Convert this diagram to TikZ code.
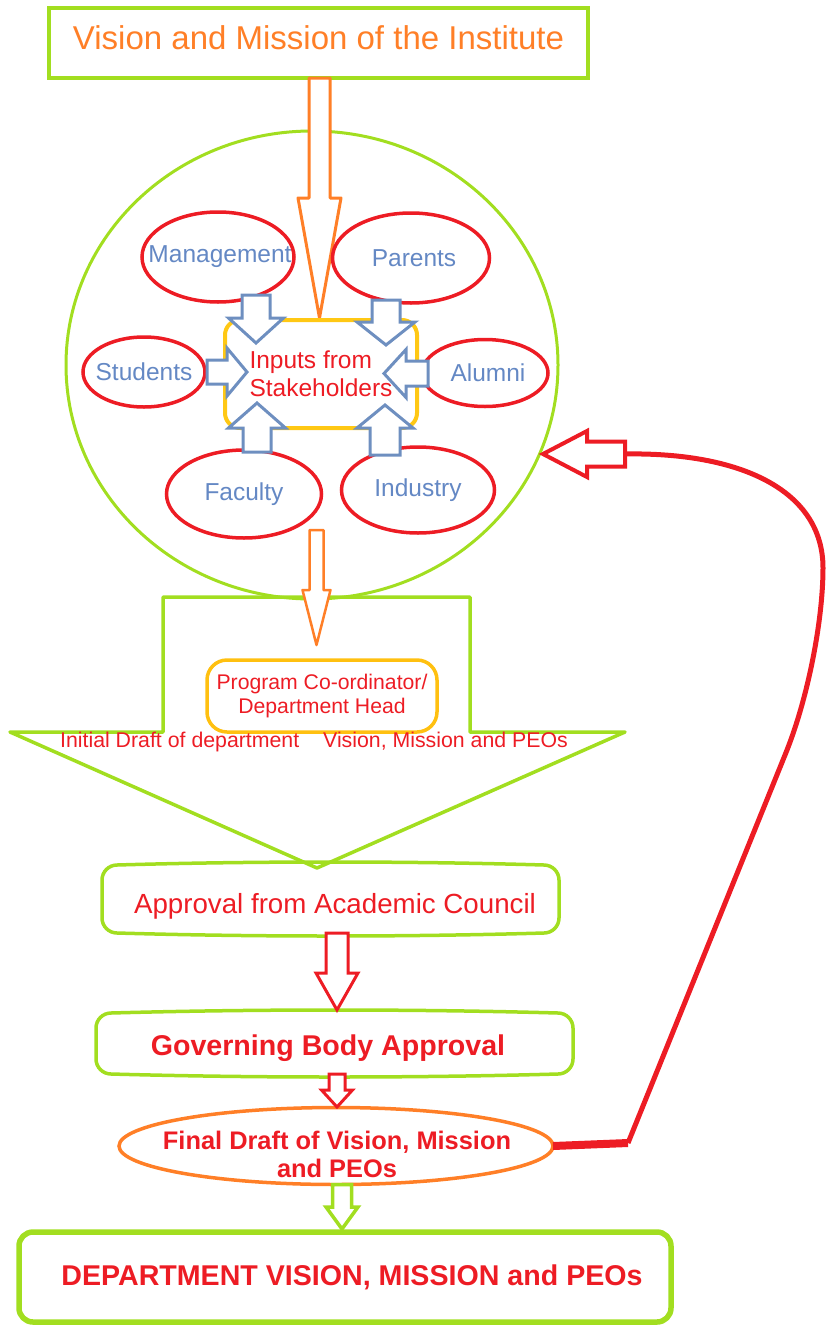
\documentclass[tikz,border=0pt]{standalone}
\usepackage{fontspec}
\setmainfont{Liberation Sans}
\usetikzlibrary{shapes.geometric,calc}
\definecolor{vgreen}{RGB}{162,222,32}
\definecolor{vred}{RGB}{237,28,36}
\definecolor{vorange}{RGB}{255,127,39}
\definecolor{vyellow}{RGB}{255,200,20}
\definecolor{vyellowb}{RGB}{255,192,16}
\definecolor{vblue}{RGB}{110,143,192}
\definecolor{vbluet}{RGB}{100,136,196}
\newcommand\fsz[2]{\fontsize{#1}{#2}\selectfont}
% hollow block arrows: #1 start, #2 tip, #3 shaft half width, #4 head half width, #5 head length, #6 style
\newcommand\harrowdown[6]{\draw[#6] let \p1=(#1),\p2=(#2) in (\x2-#3,\y1) -- (\x2-#3,\y2+#5) -- (\x2-#4,\y2+#5) -- (\x2,\y2) -- (\x2+#4,\y2+#5) -- (\x2+#3,\y2+#5) -- (\x2+#3,\y1) -- cycle;}
\newcommand\harrowup[6]{\draw[#6] let \p1=(#1),\p2=(#2) in (\x2-#3,\y1) -- (\x2-#3,\y2-#5) -- (\x2-#4,\y2-#5) -- (\x2,\y2) -- (\x2+#4,\y2-#5) -- (\x2+#3,\y2-#5) -- (\x2+#3,\y1) -- cycle;}
\newcommand\harrowright[6]{\draw[#6] let \p1=(#1),\p2=(#2) in (\x1,\y2-#3) -- (\x2-#5,\y2-#3) -- (\x2-#5,\y2-#4) -- (\x2,\y2) -- (\x2-#5,\y2+#4) -- (\x2-#5,\y2+#3) -- (\x1,\y2+#3) -- cycle;}
\newcommand\harrowleft[6]{\draw[#6] let \p1=(#1),\p2=(#2) in (\x1,\y2-#3) -- (\x2+#5,\y2-#3) -- (\x2+#5,\y2-#4) -- (\x2,\y2) -- (\x2+#5,\y2+#4) -- (\x2+#5,\y2+#3) -- (\x1,\y2+#3) -- cycle;}
% box with rounded corners and slightly bulging top and bottom: #1 node, #2 corner radius, #3 bulge, #4 style
\newcommand\bulgebox[4]{\draw[#4] let \p1=(#1.north west), \p2=(#1.south east), \n1={(\x2-\x1)/3} in
 (\x1,\y1-#2) .. controls (\x1,\y1-0.45*#2) and (\x1+0.45*#2,\y1) .. (\x1+#2,\y1)
 .. controls (\x1+\n1,\y1+#3) and (\x2-\n1,\y1+#3) .. (\x2-#2,\y1)
 .. controls (\x2-0.45*#2,\y1) and (\x2,\y1-0.45*#2) .. (\x2,\y1-#2)
 -- (\x2,\y2+#2)
 .. controls (\x2,\y2+0.45*#2) and (\x2-0.45*#2,\y2) .. (\x2-#2,\y2)
 .. controls (\x2-\n1,\y2-#3) and (\x1+\n1,\y2-#3) .. (\x1+#2,\y2)
 .. controls (\x1+0.45*#2,\y2) and (\x1,\y2+0.45*#2) .. (\x1,\y2+#2) -- cycle;}
\begin{document}
\begin{tikzpicture}[x=1pt,y=-1pt,
  every node/.style={inner sep=0pt, outer sep=0pt},
  gbox/.style={draw=vgreen, line width=3.5pt},
  gline/.style={draw=vgreen, line width=3.5pt, line join=round},
  stake/.style={draw=vred, line width=3.5pt, ellipse, text=vbluet, font=\fsz{24.5}{28}},
  barrow/.style={draw=vblue, line width=3pt, fill=white, line join=miter},
  oarrow/.style={draw=vorange, line width=3pt, fill=white, line join=round},
  rarrow/.style={draw=vred, line width=3pt, fill=white, line join=miter},
  garrow/.style={draw=vgreen, line width=3.5pt, fill=white, line join=miter},
  redtext/.style={text=vred}]
\useasboundingbox (0,0) rectangle (827,1325);

% title
\node[gbox, line width=4pt, minimum width=539pt, minimum height=70pt, text=vorange, font=\fsz{33}{38}, text height=24pt, text depth=10.4pt] (title) at (318.5,43) {Vision and Mission of the Institute};

% pentagon arrow
\draw[gline] (163,597) -- (470,597) -- (470,732) -- (625,732) -- (317,868) -- (10,732) -- (163,732) -- cycle;

% big circle
\node[draw=vgreen, line width=3pt, ellipse, minimum width=492pt, minimum height=468pt] (circ) at (312,365) {};

% top orange arrow
\coordinate (o1t) at (319.5,318);
\harrowdown{title.south}{o1t}{10.5pt}{21.5pt}{120pt}{oarrow}

% stakeholders
\node[stake, minimum width=152pt, minimum height=90pt] (mgmt) at (218,257) {\makebox[0pt]{\hspace*{4pt}Management}};
\node[stake, minimum width=157pt, minimum height=90pt] (parents) at (411,258) {\makebox[0pt]{\hspace*{6pt}Parents}};
\node[stake, minimum width=122pt, minimum height=70pt] (students) at (144,372) {\makebox[0pt]{Students}};
\node[stake, minimum width=126pt, minimum height=67pt] (alumni) at (485,373) {\makebox[0pt]{\hspace*{6pt}Alumni}};
\node[stake, minimum width=155pt, minimum height=88pt] (faculty) at (244,494) {\makebox[0pt]{Faculty}};
\node[stake, minimum width=153pt, minimum height=86pt] (industry) at (418,490) {\makebox[0pt]{Industry}};

% inputs box
\node[draw=vyellow, line width=4pt, rounded corners=15pt, minimum width=192pt, minimum height=108pt, align=left, redtext, font=\fsz{24.5}{28}] (inputs) at (321,374) {Inputs from\\Stakeholders};

% blue arrows
\coordinate (m1s) at (256,295); \coordinate (m1t) at (256,343);
\coordinate (p1s) at (386,300); \coordinate (p1t) at (386,345);
\coordinate (s1s) at (207,372); \coordinate (s1t) at (247,372);
\coordinate (a1s) at (428,373.5); \coordinate (a1t) at (384,373.5);
\coordinate (f1s) at (257,452); \coordinate (f1t) at (257,403);
\coordinate (i1s) at (385,455); \coordinate (i1t) at (385,405);
\harrowdown{m1s}{m1t}{14pt}{27.5pt}{25pt}{barrow}
\harrowdown{p1s}{p1t}{14pt}{29pt}{23pt}{barrow}
\harrowright{s1s}{s1t}{12pt}{24pt}{20pt}{barrow}
\harrowleft{a1s}{a1t}{12.5pt}{24pt}{22pt}{barrow}
\harrowup{f1s}{f1t}{14pt}{28.5pt}{25pt}{barrow}
\harrowup{i1s}{i1t}{15pt}{28pt}{23pt}{barrow}

% second orange arrow
\coordinate (o2s) at (316.5,530); \coordinate (o2t) at (316.5,645);
\harrowdown{o2s}{o2t}{7pt}{14pt}{55pt}{oarrow, line width=2.5pt}

% program box
\node[draw=vyellowb, line width=3.5pt, rounded corners=20pt, minimum width=230pt, minimum height=72pt, align=center, redtext, font=\fsz{21.2}{24}] (prog) at (322,696) {Program Co-ordinator/\\Department Head};
\node[redtext, font=\fsz{21.3}{24}] (draft) at (314,742) {Initial Draft of department\hspace{18pt} Vision, Mission and PEOs};

% approval
\node[minimum width=457pt, minimum height=68pt, redtext, font=\fsz{27.7}{32}, text height=30pt, text depth=1.2pt] (appr) at (330.5,899) {\hspace*{9pt}Approval from Academic Council};
\bulgebox{appr}{15pt}{4pt}{gline}

% governing
\node[minimum width=477pt, minimum height=61pt, redtext, font=\bfseries\fsz{28.6}{32}, text height=26pt, text depth=1.5pt] (gov) at (334.5,1043.5) {Governing Body Approval\hspace*{13pt}};
\bulgebox{gov}{15pt}{4pt}{gline}

% final draft
\node[draw=vorange, line width=3.5pt, ellipse, minimum width=434pt, minimum height=77pt] (final) at (336,1146) {};
\node[redtext, align=center, font=\bfseries\fsz{25.4}{28}] (finaltxt) at (337,1154) {Final Draft of Vision, Mission\\and PEOs};

% department
\node[gbox, line width=5.5pt, rounded corners=14pt, minimum width=652pt, minimum height=90pt, redtext, font=\bfseries\fsz{28.6}{32}] (dept) at (345,1277) {\hspace*{14pt}DEPARTMENT VISION, MISSION and PEOs};

% arrows between boxes
\coordinate (r1t) at (337,1010);
\harrowdown{appr.south}{r1t}{11pt}{21pt}{37pt}{rarrow}
\coordinate (r2t) at (337,1107);
\harrowdown{gov.south}{r2t}{8pt}{15.5pt}{17pt}{rarrow}
\coordinate (g1t) at (342,1229);
\harrowdown{final.south}{g1t}{9.5pt}{16pt}{22pt}{garrow}

% feedback connector
\coordinate (c1) at (628,1143);
\coordinate (c2) at (785,755);
\coordinate (c3) at (823,568);
\coordinate (fbS) at (625,454);
\coordinate (fbT) at (543,454);
\draw[vred, line width=8pt] (final.east) -- (c1);
\draw[vred, line width=5pt, line join=round] (c1) -- (c2) .. controls (808,699) and (823,620) .. (c3) .. controls (823,490) and (740,452) .. (fbS);
\harrowleft{fbS}{fbT}{12.5pt}{23pt}{44pt}{rarrow, line width=4pt}
\end{tikzpicture}
\end{document}
